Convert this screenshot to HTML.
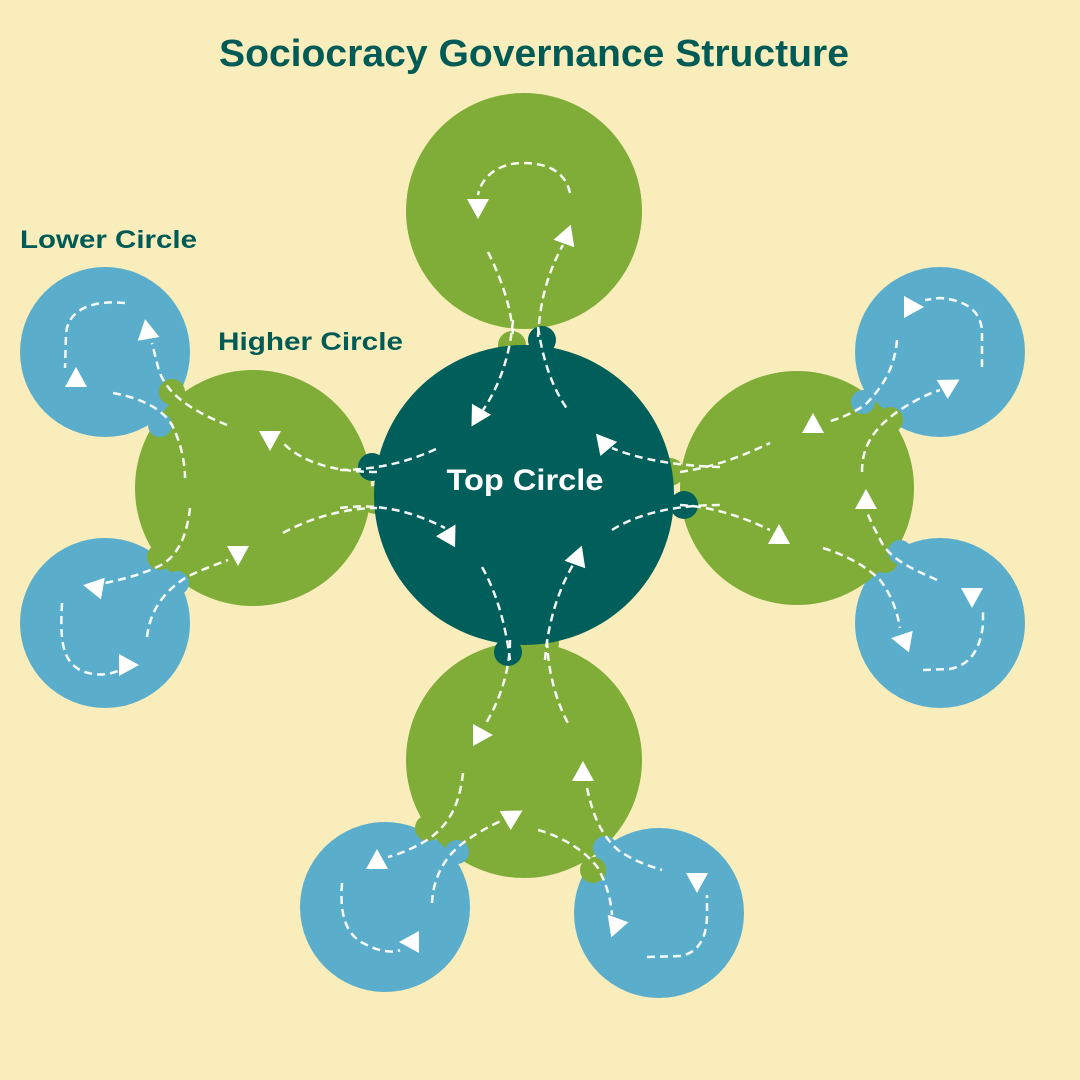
<!DOCTYPE html>
<html><head><meta charset="utf-8"><style>
html,body{margin:0;padding:0;background:#F9EDBB}
svg{display:block}
text{font-family:"Liberation Sans",sans-serif;font-weight:bold}
</style></head><body>
<svg width="1080" height="1080" viewBox="0 0 1080 1080" xmlns="http://www.w3.org/2000/svg">
<defs>
<polygon id="t" points="-11,9 11,9 0,-11" fill="#fff"/>
</defs>
<rect width="1080" height="1080" fill="#F9EDBB"/>
<text x="534" y="66" text-anchor="middle" font-size="38" fill="#005A55" textLength="630" lengthAdjust="spacingAndGlyphs">Sociocracy Governance Structure</text>
<text x="20" y="248" font-size="25" fill="#005A55" textLength="177" lengthAdjust="spacingAndGlyphs">Lower Circle</text>
<text x="218" y="350" font-size="25" fill="#005A55" textLength="185" lengthAdjust="spacingAndGlyphs">Higher Circle</text>

<g fill="#5BAECB">
<circle cx="105" cy="352" r="85"/><circle cx="105" cy="623" r="85"/>
<circle cx="940" cy="352" r="85"/><circle cx="940" cy="623" r="85"/>
<circle cx="385" cy="907" r="85"/><circle cx="659" cy="913" r="85"/>
</g>
<g fill="#7FAD38">
<circle cx="524" cy="211" r="118"/><circle cx="253" cy="488" r="118"/>
<circle cx="797" cy="488" r="117"/><circle cx="524" cy="760" r="118"/>
<circle cx="172" cy="392" r="13"/><circle cx="160" cy="557" r="13"/>
<circle cx="890" cy="420" r="13"/><circle cx="885" cy="560" r="13"/>
<circle cx="428" cy="828" r="13"/><circle cx="593" cy="870" r="13"/>
<circle cx="512" cy="345" r="14"/><circle cx="375" cy="500" r="14"/>
<circle cx="670" cy="472" r="14"/><circle cx="545" cy="643" r="14"/>
</g>
<g fill="#5BAECB">
<circle cx="160" cy="425" r="12"/><circle cx="177" cy="583" r="12"/>
<circle cx="863" cy="402" r="12"/><circle cx="900" cy="552" r="12"/>
<circle cx="457" cy="852" r="12"/><circle cx="605" cy="848" r="12"/>
</g>
<circle cx="524" cy="495" r="150" fill="#005E5B"/>
<g fill="#005E5B">
<circle cx="542" cy="340" r="14"/><circle cx="372" cy="467" r="14"/>
<circle cx="684" cy="505" r="14"/><circle cx="508" cy="652" r="14"/>
</g>
<text x="525" y="490" text-anchor="middle" font-size="30" fill="#fff" textLength="157" lengthAdjust="spacingAndGlyphs">Top Circle</text>

<g fill="none" stroke="#fff" stroke-width="2.5" stroke-dasharray="8,5" opacity="0.95">
<!-- top green -->
<path d="M570,193 C565,170 545,163 523,163 C500,163 482,175 478,195"/>
<path d="M488,252 C502,280 512,310 513,337"/>
<path d="M538,337 C540,300 548,272 563,245"/>
<!-- top circle -->
<path d="M513,320 C510,355 500,385 483,410"/>
<path d="M538,327 C543,360 552,388 568,410"/>
<path d="M720,467 C680,466 640,460 612,448"/>
<path d="M340,470 C375,470 410,462 440,447"/>
<path d="M340,508 C375,503 410,510 445,528"/>
<path d="M612,530 C640,512 680,505 720,505"/>
<path d="M482,567 C495,590 505,620 510,660"/>
<path d="M545,660 C548,620 560,585 576,560"/>
<!-- left -->
<path d="M377,472 C340,472 305,465 283,443"/>
<path d="M227,425 C195,412 165,395 158,367 L152,343"/>
<path d="M113,393 C140,398 162,408 172,425 C182,445 185,465 185,478"/>
<path d="M125,303 C95,300 67,308 66,335 L65,368"/>
<path d="M283,533 C310,518 345,508 377,508"/>
<path d="M190,508 C187,535 178,558 157,567 C140,575 120,580 105,583"/>
<path d="M147,637 C150,610 165,590 187,577 C200,570 215,565 228,560"/>
<path d="M62,603 C60,640 62,660 80,670 C95,677 110,675 120,670"/>
<!-- right -->
<path d="M680,472 C715,467 745,455 770,443"/>
<path d="M680,505 C715,507 745,518 770,530"/>
<path d="M897,340 C895,365 885,385 865,405 C850,415 835,420 827,422"/>
<path d="M982,367 L982,330 C980,310 965,300 940,298 L925,300"/>
<path d="M862,472 C862,450 870,430 900,410 C915,400 930,393 940,390"/>
<path d="M937,580 C915,570 895,562 883,545 C875,530 870,520 867,512"/>
<path d="M823,548 C845,555 865,565 880,580 C892,595 898,615 900,628"/>
<path d="M923,670 L950,669 C970,665 980,650 983,625 L983,608"/>
<!-- bottom -->
<path d="M510,640 C510,670 500,700 485,725"/>
<path d="M547,640 C548,670 555,700 570,727"/>
<path d="M463,773 C460,800 452,822 430,838 C415,848 400,854 388,857"/>
<path d="M432,903 C433,880 443,858 463,843 C478,832 492,825 503,820"/>
<path d="M342,883 C340,910 343,935 367,945 C380,952 395,953 400,950"/>
<path d="M538,830 C560,836 585,850 598,868 C607,885 611,900 612,915"/>
<path d="M587,788 C592,810 598,832 618,850 C635,862 650,866 662,870"/>
<path d="M647,957 L680,956 C700,953 707,935 707,915 L707,895"/>
</g>
<g>
<use href="#t" transform="translate(478,208) rotate(180)"/>
<use href="#t" transform="translate(567,235) rotate(20)"/>
<use href="#t" transform="translate(477,417) rotate(210)"/>
<use href="#t" transform="translate(603,442) rotate(-40)"/>
<use href="#t" transform="translate(450,534) rotate(30)"/>
<use href="#t" transform="translate(578,556) rotate(20)"/>
<use href="#t" transform="translate(270,440) rotate(180)"/>
<use href="#t" transform="translate(147,330) rotate(-10)"/>
<use href="#t" transform="translate(76,378) rotate(0)"/>
<use href="#t" transform="translate(238,555) rotate(180)"/>
<use href="#t" transform="translate(94,587) rotate(-80)"/>
<use href="#t" transform="translate(128,665) rotate(90)"/>
<use href="#t" transform="translate(813,424) rotate(0)"/>
<use href="#t" transform="translate(950,385) rotate(60)"/>
<use href="#t" transform="translate(913,307) rotate(90)"/>
<use href="#t" transform="translate(866,500) rotate(0)"/>
<use href="#t" transform="translate(779,535) rotate(0)"/>
<use href="#t" transform="translate(902,640) rotate(-80)"/>
<use href="#t" transform="translate(972,597) rotate(180)"/>
<use href="#t" transform="translate(482,735) rotate(90)"/>
<use href="#t" transform="translate(377,860) rotate(0)"/>
<use href="#t" transform="translate(513,816) rotate(60)"/>
<use href="#t" transform="translate(410,942) rotate(-90)"/>
<use href="#t" transform="translate(615,927) rotate(200)"/>
<use href="#t" transform="translate(583,772) rotate(0)"/>
<use href="#t" transform="translate(697,882) rotate(180)"/>
</g>
</svg>
</body></html>
